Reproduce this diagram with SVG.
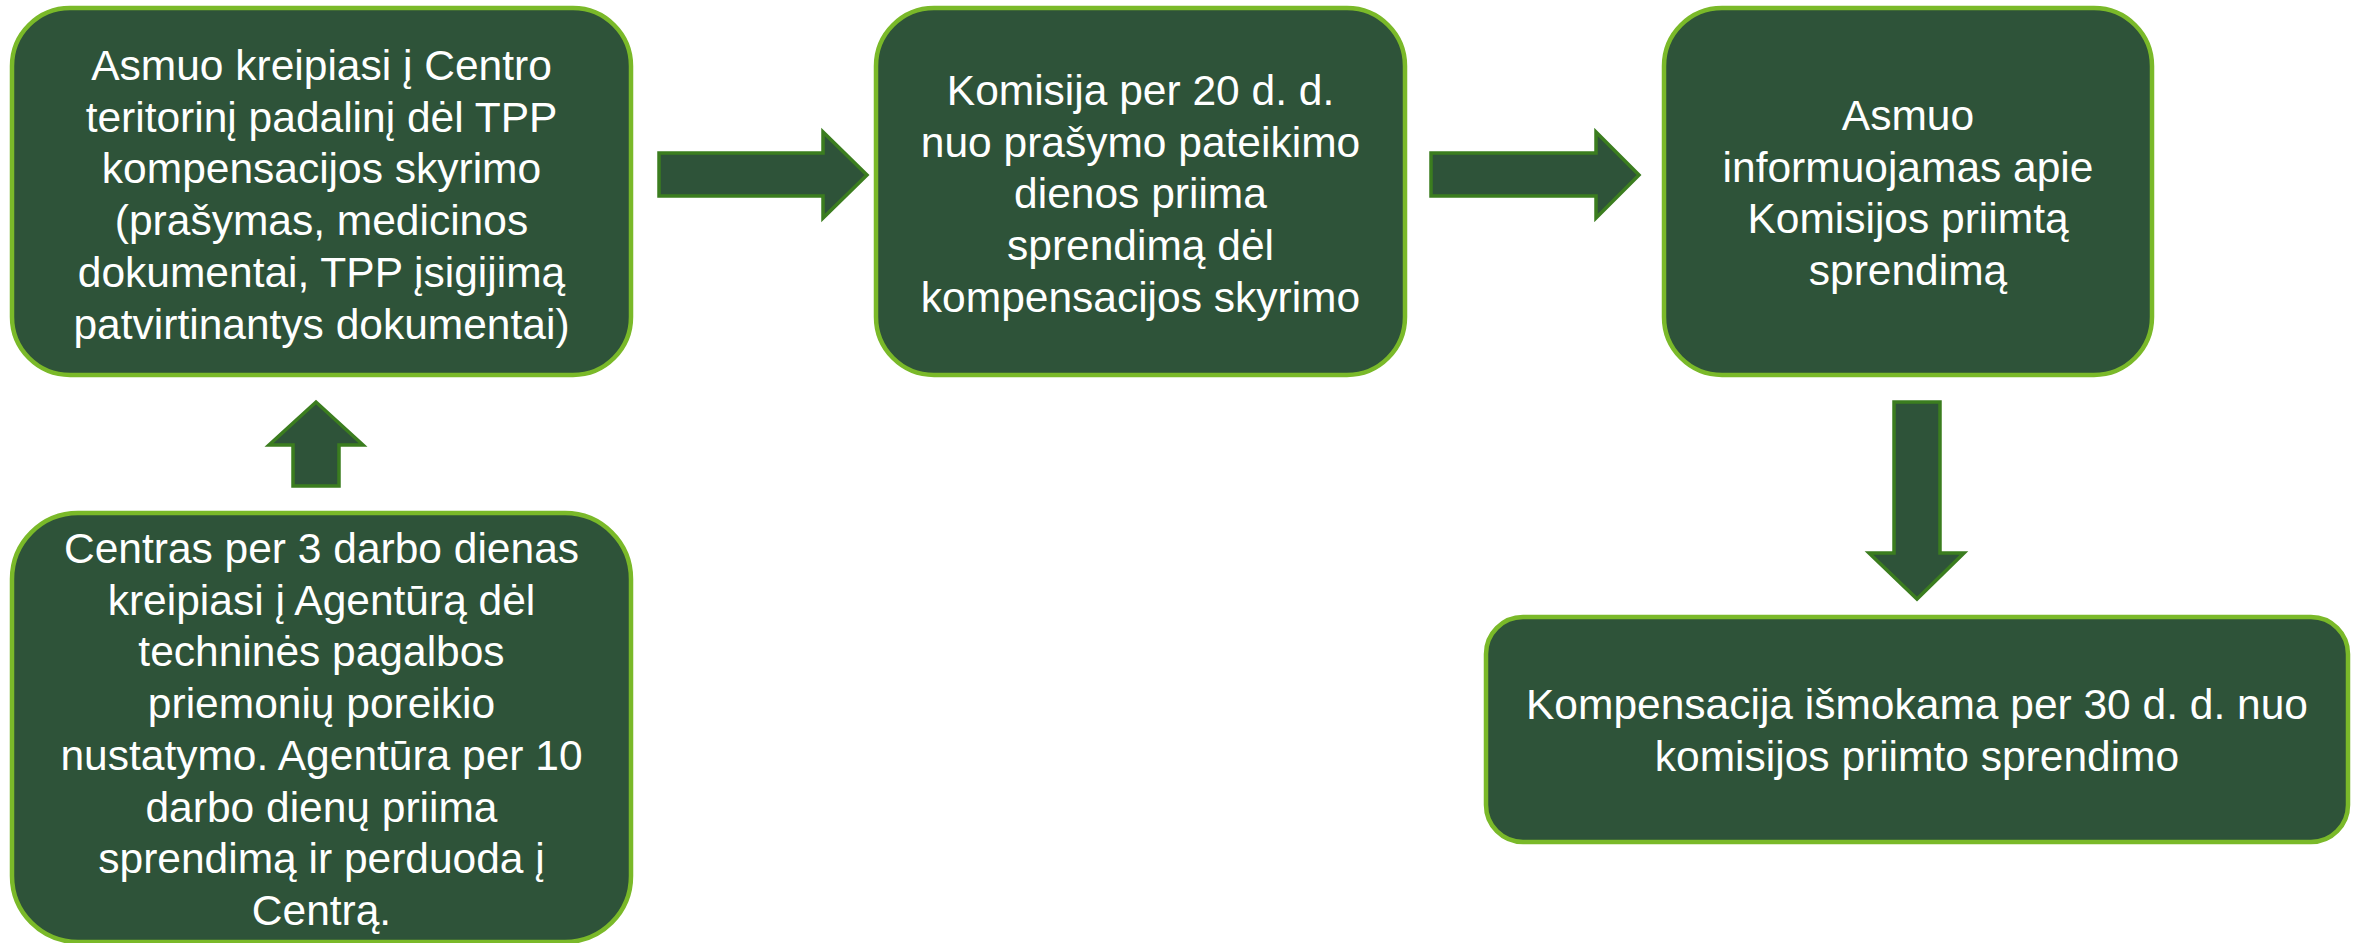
<svg xmlns="http://www.w3.org/2000/svg" width="2356" height="943" viewBox="0 0 2356 943">
<style>
.box{fill:#2E5339;stroke:#7AB929;stroke-width:4.5}
.arr{fill:#2E5339;stroke:#3B7D1F;stroke-width:3.5;stroke-linejoin:miter}
.t{font-family:"Liberation Sans",Arial,sans-serif;font-size:42.5px;fill:#FFFFFF;text-anchor:middle}
</style>
<rect width="2356" height="943" fill="#FFFFFF"/>
<g id="connectors">
<polygon class="arr" points="659,153 823,153 823,132 867,175 823,218 823,196 659,196"/>
<polygon class="arr" points="1431,153 1596,153 1596,132 1639,175 1596,218 1596,196 1431,196"/>
<polygon class="arr" points="293,486 293,445 269,445 316,402 363,445 339,445 339,486"/>
<polygon class="arr" points="1894,402 1940,402 1940,553 1964,553 1917,599 1869,553 1894,553"/>
</g>
<g id="node1">
<rect class="box" x="12" y="8" width="619" height="367" rx="58" ry="58"/>
<text class="t" x="321.5" y="80">Asmuo kreipiasi į Centro</text>
<text class="t" x="321.5" y="131.7">teritorinį padalinį dėl TPP</text>
<text class="t" x="321.5" y="183.4">kompensacijos skyrimo</text>
<text class="t" x="321.5" y="235.1">(prašymas, medicinos</text>
<text class="t" x="321.5" y="286.8">dokumentai, TPP įsigijimą</text>
<text class="t" x="321.5" y="338.5">patvirtinantys dokumentai)</text>
</g>
<g id="node2">
<rect class="box" x="876" y="8" width="529" height="367" rx="58" ry="58"/>
<text class="t" x="1140.5" y="105">Komisija per 20 d. d.</text>
<text class="t" x="1140.5" y="156.7">nuo prašymo pateikimo</text>
<text class="t" x="1140.5" y="208.4">dienos priima</text>
<text class="t" x="1140.5" y="260.1">sprendimą dėl</text>
<text class="t" x="1140.5" y="311.8">kompensacijos skyrimo</text>
</g>
<g id="node3">
<rect class="box" x="1664" y="8" width="488" height="367" rx="58" ry="58"/>
<text class="t" x="1908" y="130">Asmuo</text>
<text class="t" x="1908" y="181.7">informuojamas apie</text>
<text class="t" x="1908" y="233.4">Komisijos priimtą</text>
<text class="t" x="1908" y="285.1">sprendimą</text>
</g>
<g id="node4">
<rect class="box" x="12" y="513" width="619" height="429" rx="66" ry="66"/>
<text class="t" x="321.5" y="563">Centras per 3 darbo dienas</text>
<text class="t" x="321.5" y="614.7">kreipiasi į Agentūrą dėl</text>
<text class="t" x="321.5" y="666.4">techninės pagalbos</text>
<text class="t" x="321.5" y="718.1">priemonių poreikio</text>
<text class="t" x="321.5" y="769.8">nustatymo. Agentūra per 10</text>
<text class="t" x="321.5" y="821.5">darbo dienų priima</text>
<text class="t" x="321.5" y="873.2">sprendimą ir perduoda į</text>
<text class="t" x="321.5" y="924.9">Centrą.</text>
</g>
<g id="node5">
<rect class="box" x="1486" y="617" width="862" height="225" rx="37" ry="37"/>
<text class="t" x="1917" y="719">Kompensacija išmokama per 30 d. d. nuo</text>
<text class="t" x="1917" y="770.7">komisijos priimto sprendimo</text>
</g>
</svg>
